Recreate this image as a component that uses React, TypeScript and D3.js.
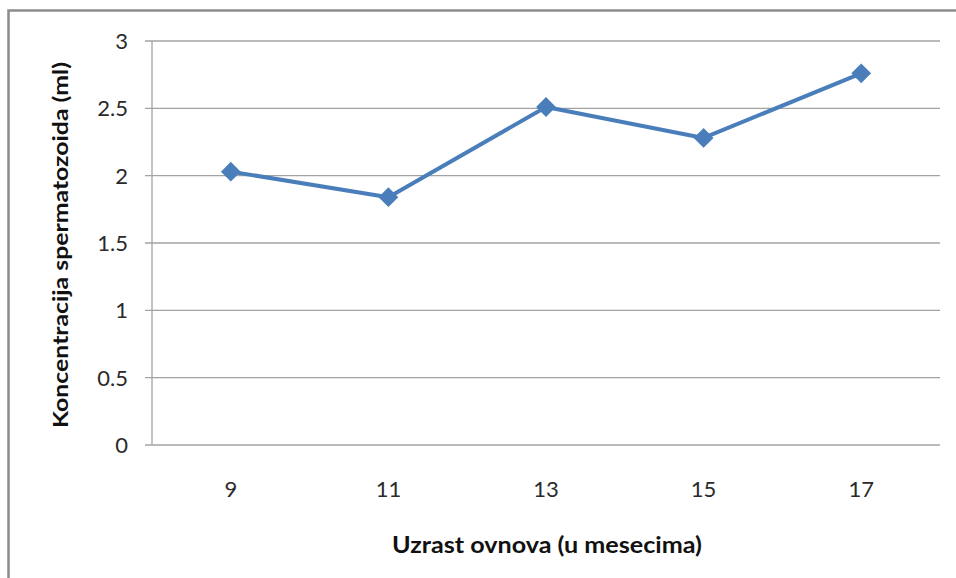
import React, { useEffect, useRef } from 'react';
import * as d3 from 'd3';

const ages = ['9', '11', '13', '15', '17'];
const concentration = [2.03, 1.84, 2.51, 2.28, 2.76];
const yTicks = [0, 0.5, 1, 1.5, 2, 2.5, 3];

const xTitle = 'Uzrast ovnova (u mesecima)';
const yTitle = 'Koncentracija spermatozoida (ml)';

const App = () => {
  const ref = useRef<SVGSVGElement>(null);

  useEffect(() => {
    const svg = d3.select(ref.current);
    svg.selectAll('*').remove();

    const width = 956;
    const height = 578;
    const plot = { left: 152, right: 940, top: 41, bottom: 445 };
    const font = 'Lato, "Open Sans", sans-serif';

    svg.append('rect')
      .attr('width', width)
      .attr('height', height)
      .attr('fill', '#ffffff');

    // chart frame (only top and left edge visible)
    svg.append('path')
      .attr('d', `M8.5,${height} V10.5 H${width}`)
      .attr('fill', 'none')
      .attr('stroke', '#8c8c8c')
      .attr('stroke-width', 2.5);

    const x = d3.scaleBand<string>()
      .domain(ages)
      .range([plot.left, plot.right]);

    const y = d3.scaleLinear()
      .domain([0, 3])
      .range([plot.bottom, plot.top]);

    // gridlines
    svg.append('g')
      .selectAll('line')
      .data(yTicks)
      .enter()
      .append('line')
      .attr('x1', plot.left - 7)
      .attr('x2', plot.right)
      .attr('y1', d => y(d))
      .attr('y2', d => y(d))
      .attr('stroke', '#a3a3a3')
      .attr('stroke-width', 1.3);

    // y axis line
    svg.append('line')
      .attr('x1', plot.left)
      .attr('x2', plot.left)
      .attr('y1', plot.top)
      .attr('y2', plot.bottom)
      .attr('stroke', '#a3a3a3')
      .attr('stroke-width', 1.3);

    // y tick labels
    svg.append('g')
      .selectAll('text')
      .data(yTicks)
      .enter()
      .append('text')
      .attr('x', 128)
      .attr('y', d => y(d))
      .attr('dy', '0.36em')
      .attr('text-anchor', 'end')
      .style('font-family', font)
      .style('font-size', '22px')
      .style('fill', '#2a2a2a')
      .text(d => String(d));

    // x tick labels
    svg.append('g')
      .selectAll('text')
      .data(ages)
      .enter()
      .append('text')
      .attr('x', d => (x(d) as number) + x.bandwidth() / 2)
      .attr('y', 497)
      .attr('text-anchor', 'middle')
      .style('font-family', font)
      .style('font-size', '22px')
      .style('fill', '#2a2a2a')
      .text(d => d);

    // axis titles
    svg.append('text')
      .attr('x', 547)
      .attr('y', 553)
      .attr('text-anchor', 'middle')
      .attr('textLength', 310)
      .attr('lengthAdjust', 'spacingAndGlyphs')
      .style('font-family', font)
      .style('font-weight', 'bold')
      .style('font-size', '22px')
      .style('fill', '#111')
      .text(xTitle);

    svg.append('text')
      .attr('transform', 'translate(68,245) rotate(-90)')
      .attr('text-anchor', 'middle')
      .attr('textLength', 366)
      .attr('lengthAdjust', 'spacingAndGlyphs')
      .style('font-family', font)
      .style('font-weight', 'bold')
      .style('font-size', '20px')
      .style('fill', '#111')
      .text(yTitle);

    const pts: [number, number][] = ages.map((a, i) => [
      (x(a) as number) + x.bandwidth() / 2,
      y(concentration[i]),
    ]);

    svg.append('path')
      .datum(pts)
      .attr('d', d3.line())
      .attr('fill', 'none')
      .attr('stroke', '#4a7ebb')
      .attr('stroke-width', 4)
      .attr('stroke-linejoin', 'round');

    svg.append('g')
      .selectAll('path')
      .data(pts)
      .enter()
      .append('path')
      .attr('transform', d => `translate(${d[0]},${d[1]})`)
      .attr('d', d3.symbol(d3.symbolDiamond2, 250))
      .attr('fill', '#4a7ebb');
  }, []);

  return (
    <div style={{ position: 'absolute', top: 0, left: 0 }}>
      <svg ref={ref} width={956} height={578} style={{ display: 'block' }} />
    </div>
  );
};

export default App;
